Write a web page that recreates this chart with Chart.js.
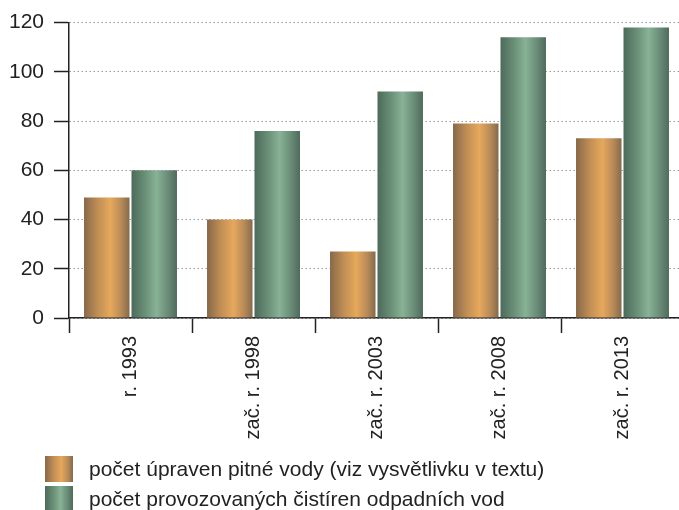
<!DOCTYPE html>
<html lang="cs">
<head>
<meta charset="utf-8">
<title>Úpravny pitné vody a čistírny odpadních vod</title>
<script src="https://cdn.jsdelivr.net/npm/chart.js@4/dist/chart.umd.min.js"></script>
<style>
  html, body { margin: 0; padding: 0; background: #fff; overflow: hidden; }
  #wrap { position: relative; width: 679px; height: 510px; overflow: hidden; }
  #chart { position: absolute; left: 0; top: 0; }
  .item { position: absolute; left: 0; width: 679px; height: 30px;
          font-family: 'Liberation Sans', Arial, Helvetica, sans-serif; font-size: 21px; color: #222; }
  .swatch { position: absolute; left: 45px; width: 28px; height: 26px; }
  .label { position: absolute; left: 89px; top: 0; line-height: 26px; white-space: nowrap; }
  .orange { background: linear-gradient(to right, #87684a 0%, #c08e55 30%, #e6a85c 58%, #b88a58 82%, #846a4c 100%); }
  .green  { background: linear-gradient(to right, #4d6a5a 0%, #6a9078 30%, #88b295 55%, #6a8c78 80%, #4f6a5b 100%); }
</style>
</head>
<body>
<div id="wrap">
  <canvas id="chart" width="684" height="510" style="width:684px;height:510px"></canvas>
  <div class="item" style="top:456px"><div class="swatch orange"></div><div class="label">počet úpraven pitné vody (viz vysvětlivku v textu)</div></div>
  <div class="item" style="top:486px"><div class="swatch green"></div><div class="label">počet provozovaných čistíren odpadních vod</div></div>
</div>
<script>
// Sledované roky
const categories = ['r. 1993', 'zač. r. 1998', 'zač. r. 2003', 'zač. r. 2008', 'zač. r. 2013'];
// Počet úpraven pitné vody
const upravnyVody = [49, 40, 27, 79, 73];
// Počet provozovaných čistíren odpadních vod
const cistirny = [60, 76, 92, 114, 118];
// Rozsah a krok svislé osy
const yMin = 0;
const yMax = 120;
const yStep = 20;

const FONT = "'Liberation Sans', Arial, Helvetica, sans-serif";
const CAT_PCT = 0.772;
const BAR_PCT = 0.958;

// Válcové stínování sloupce: tmavé okraje, světlý střed
const orangeStops = [[0, '#87684a'], [0.3, '#c08e55'], [0.58, '#e6a85c'], [0.82, '#b88a58'], [1, '#846a4c']];
const greenStops  = [[0, '#4d6a5a'], [0.3, '#6a9078'], [0.55, '#88b295'], [0.8, '#6a8c78'], [1, '#4f6a5b']];

function barGradient(stops) {
  return function (ctx) {
    const chart = ctx.chart;
    const xs = chart.scales && chart.scales.x;
    if (!xs || ctx.type !== 'data' || !chart.chartArea) return stops[2][1];
    const n = chart.data.datasets.length;
    const center = xs.getPixelForValue(ctx.dataIndex);
    const catW = xs.getPixelForValue(1) - xs.getPixelForValue(0);
    const group = catW * CAT_PCT;
    const slot = group / n;
    const barW = slot * BAR_PCT;
    const barCenter = center - group / 2 + slot * (ctx.datasetIndex + 0.5);
    const left = barCenter - barW / 2;
    const g = chart.ctx.createLinearGradient(left, 0, left + barW, 0);
    stops.forEach(([o, c]) => g.addColorStop(o, c));
    return g;
  };
}

Chart.defaults.font.family = FONT;

new Chart(document.getElementById('chart'), {
  type: 'bar',
  data: {
    labels: categories,
    datasets: [
      { label: 'počet úpraven pitné vody (viz vysvětlivku v textu)', data: upravnyVody,
        backgroundColor: barGradient(orangeStops), borderWidth: 0,
        categoryPercentage: CAT_PCT, barPercentage: BAR_PCT },
      { label: 'počet provozovaných čistíren odpadních vod', data: cistirny,
        backgroundColor: barGradient(greenStops), borderWidth: 0,
        categoryPercentage: CAT_PCT, barPercentage: BAR_PCT }
    ]
  },
  options: {
    responsive: false,
    animation: false,
    events: [],
    layout: { padding: { top: 21, right: 0, bottom: 0, left: 0 } },
    plugins: { legend: { display: false }, tooltip: { enabled: false } },
    scales: {
      x: {
        ticks: { minRotation: 90, maxRotation: 90, autoSkip: false, padding: 3,
                 color: '#222', font: { size: 20 } },
        grid: { offset: true, drawOnChartArea: false, drawTicks: true,
                tickLength: 15, tickColor: '#222', tickWidth: 1.5 },
        border: { display: true, color: '#222', width: 1.5 },
        afterFit(s) { s.height = 192; }
      },
      y: {
        min: yMin, max: yMax,
        ticks: { stepSize: yStep, padding: 10, color: '#222', font: { size: 21 } },
        grid: { color: '#9a9a9a', lineWidth: 1, drawTicks: true, tickLength: 15,
                tickColor: '#222', tickWidth: 1.5, tickBorderDash: [] },
        border: { display: true, color: '#222', width: 1.5, dash: [1.5, 2.5] },
        afterFit(s) { s.width = 69; }
      }
    }
  }
});
</script>
</body>
</html>
